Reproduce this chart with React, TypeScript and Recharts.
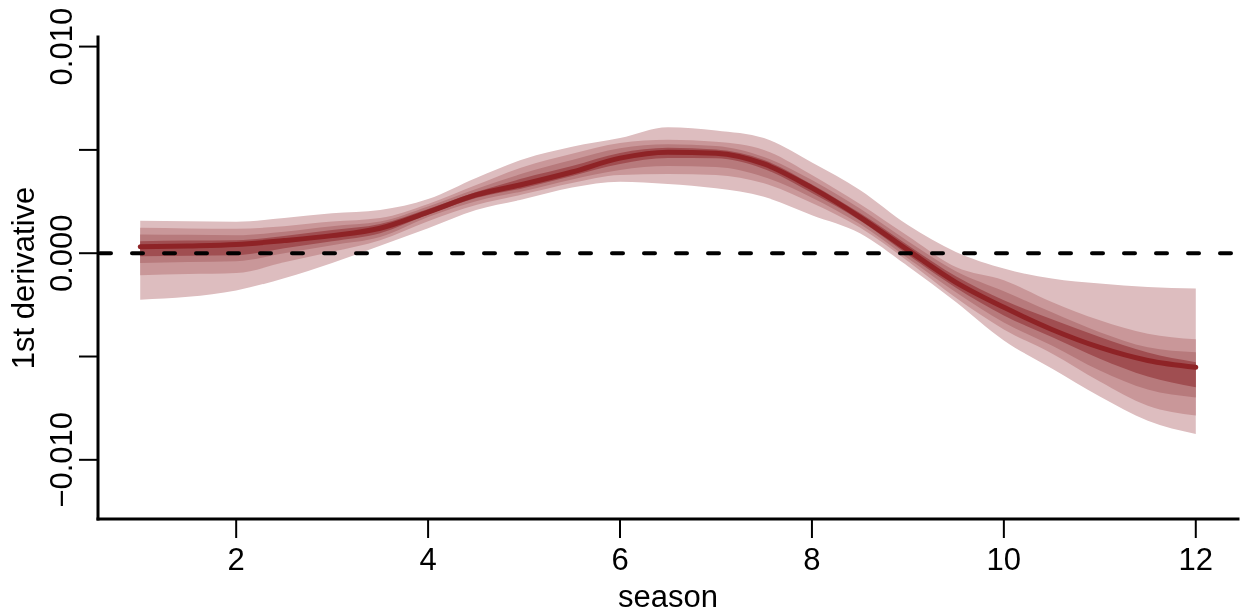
import React from "react";
import { ComposedChart, Area, Line, XAxis, YAxis, ReferenceLine } from "recharts";

const FONT = "'Liberation Sans', Arial, Helvetica, sans-serif";

// season values
const season = [1, 1.5, 2, 2.5, 3, 3.5, 4, 4.5, 5, 5.5, 6, 6.5, 7, 7.5, 8, 8.5, 9, 9.5, 10, 10.5, 11, 11.5, 12];

// posterior median of the 1st derivative
const median = [0.00031, 0.00035, 0.00042, 0.00061, 0.00085, 0.00121, 0.00199, 0.00282, 0.00335, 0.00393, 0.0046, 0.00489, 0.00484, 0.00432, 0.00316, 0.00175, 0.00015, -0.00141, -0.00262, -0.00369, -0.00456, -0.00519, -0.00552];

// outermost band
const upper1 = [0.00157, 0.00155, 0.00152, 0.0017, 0.00193, 0.00209, 0.00262, 0.00364, 0.00456, 0.00515, 0.00557, 0.0061, 0.00594, 0.00557, 0.00439, 0.00306, 0.00136, 0.00006, -0.00074, -0.00123, -0.00147, -0.00164, -0.00171];
const lower1 = [-0.00225, -0.00211, -0.0018, -0.00121, -0.00047, 0.00036, 0.00121, 0.00209, 0.00262, 0.00318, 0.00346, 0.00335, 0.00314, 0.00273, 0.00184, 0.00097, -0.00063, -0.00236, -0.00422, -0.00558, -0.00694, -0.00811, -0.00875];

// second band
const upper2 = [0.00123, 0.0012, 0.00118, 0.00131, 0.00153, 0.0017, 0.00238, 0.0033, 0.00419, 0.00481, 0.00533, 0.00549, 0.00539, 0.005, 0.00379, 0.00238, 0.00083, -0.00067, -0.00131, -0.00236, -0.00325, -0.0039, -0.00417];
const lower2 = [-0.00107, -0.00101, -0.00096, -0.00044, 0.00007, 0.00063, 0.00155, 0.00233, 0.00286, 0.0034, 0.00379, 0.00383, 0.00379, 0.00338, 0.00243, 0.00124, -0.00039, -0.00216, -0.00369, -0.00485, -0.00621, -0.00738, -0.00786];

// third band
const upper3 = [0.00091, 0.00089, 0.00087, 0.00104, 0.00131, 0.00153, 0.00226, 0.00311, 0.00388, 0.00451, 0.00508, 0.00527, 0.00519, 0.00466, 0.00354, 0.00216, 0.00058, -0.00087, -0.00184, -0.00286, -0.00382, -0.00455, -0.00479];
const lower3 = [-0.00047, -0.00043, -0.00039, 0, 0.00039, 0.00078, 0.00175, 0.00252, 0.00301, 0.00357, 0.00403, 0.00422, 0.00417, 0.00369, 0.00269, 0.00141, -0.00024, -0.00189, -0.00335, -0.00447, -0.00568, -0.0066, -0.00698];

// innermost band
const upper4 = [0.00058, 0.00061, 0.00063, 0.00083, 0.00112, 0.00141, 0.00214, 0.00296, 0.00364, 0.00422, 0.00485, 0.0051, 0.00502, 0.00451, 0.00333, 0.00194, 0.00039, -0.00112, -0.00228, -0.0032, -0.00406, -0.00481, -0.00528];
const lower4 = [-0.00015, -0.00012, -0.0001, 0.00024, 0.00058, 0.00097, 0.00187, 0.00267, 0.00316, 0.00374, 0.00432, 0.00461, 0.00459, 0.00408, 0.00291, 0.00158, -0.00007, -0.00167, -0.00301, -0.00406, -0.00511, -0.00597, -0.00649];

const xTicks = [2, 4, 6, 8, 10, 12];
const yTicks = [-0.01, -0.005, 0, 0.005, 0.01];
const yLabelled = [-0.01, 0, 0.01];

const data = season.map((s, i) => ({
  season: s,
  band1: [lower1[i], upper1[i]],
  band2: [lower2[i], upper2[i]],
  band3: [lower3[i], upper3[i]],
  band4: [lower4[i], upper4[i]],
  median: median[i],
}));

const fmtY = (v: number) => {
  if (Math.abs(v) < 1e-12) return "0.000";
  return v > 0 ? v.toFixed(3) : "\u2212" + Math.abs(v).toFixed(3);
};

const XTick = (props: any) => {
  const { x, payload } = props;
  return (
    <text x={x} y={562} textAnchor="middle" fontSize={31} fontFamily={FONT} fill="#000">
      {payload.value}
    </text>
  );
};

const YTick = (props: any) => {
  const { y, payload } = props;
  const v = payload.value;
  if (!yLabelled.some((s) => Math.abs(s - v) < 1e-9)) return <g />;
  const bx = 64;
  return (
    <text
      x={bx}
      y={y}
      transform={`rotate(-90 ${bx} ${y})`}
      textAnchor="middle"
      fontSize={31}
      fontFamily={FONT}
      fill="#000"
    >
      {fmtY(v)}
    </text>
  );
};

const XTitle = () => (
  <text x={660} y={599} textAnchor="middle" fontSize={31} fontFamily={FONT} fill="#000">
    season
  </text>
);

const YTitle = () => (
  <text
    x={26}
    y={270}
    transform="rotate(-90 26 270)"
    textAnchor="middle"
    fontSize={31}
    fontFamily={FONT}
    fill="#000"
  >
    1st derivative
  </text>
);

export default function App() {
  return (
    <div style={{ position: "fixed", left: 8, top: 8 }}>
      <ComposedChart
        width={1240}
        height={606}
        data={data}
        margin={{ top: 29, right: 10, bottom: 8, left: 0 }}
      >
        <XAxis
          dataKey="season"
          type="number"
          domain={[0.56, 12.44]}
          allowDataOverflow
          ticks={xTicks}
          interval={0}
          height={87}
          tickSize={19}
          tick={<XTick />}
          axisLine={{ stroke: "#000", strokeWidth: 3, strokeLinecap: "square" }}
          tickLine={{ stroke: "#000", strokeWidth: 2 }}
          label={<XTitle />}
        />
        <YAxis
          type="number"
          domain={[-0.012864, 0.010464]}
          allowDataOverflow
          ticks={yTicks}
          interval={0}
          width={90}
          tickSize={19}
          tick={<YTick />}
          axisLine={{ stroke: "#000", strokeWidth: 3, strokeLinecap: "square" }}
          tickLine={{ stroke: "#000", strokeWidth: 2 }}
          label={<YTitle />}
        />
        <Area type="monotone" dataKey="band1" fill="#DDBDBF" fillOpacity={1} stroke="none" isAnimationActive={false} />
        <Area type="monotone" dataKey="band2" fill="#C99799" fillOpacity={1} stroke="none" isAnimationActive={false} />
        <Area type="monotone" dataKey="band3" fill="#B77A7C" fillOpacity={1} stroke="none" isAnimationActive={false} />
        <Area type="monotone" dataKey="band4" fill="#A04E51" fillOpacity={1} stroke="none" isAnimationActive={false} />
        <Line
          type="monotone"
          dataKey="median"
          stroke="#8E2326"
          strokeWidth={5}
          strokeLinecap="round"
          dot={false}
          activeDot={false}
          isAnimationActive={false}
        />
        <ReferenceLine
          y={0}
          stroke="#000"
          strokeWidth={4}
          strokeDasharray="11 21"
          strokeLinecap="round"
          strokeDashoffset={-2}
        />
      </ComposedChart>
    </div>
  );
}
